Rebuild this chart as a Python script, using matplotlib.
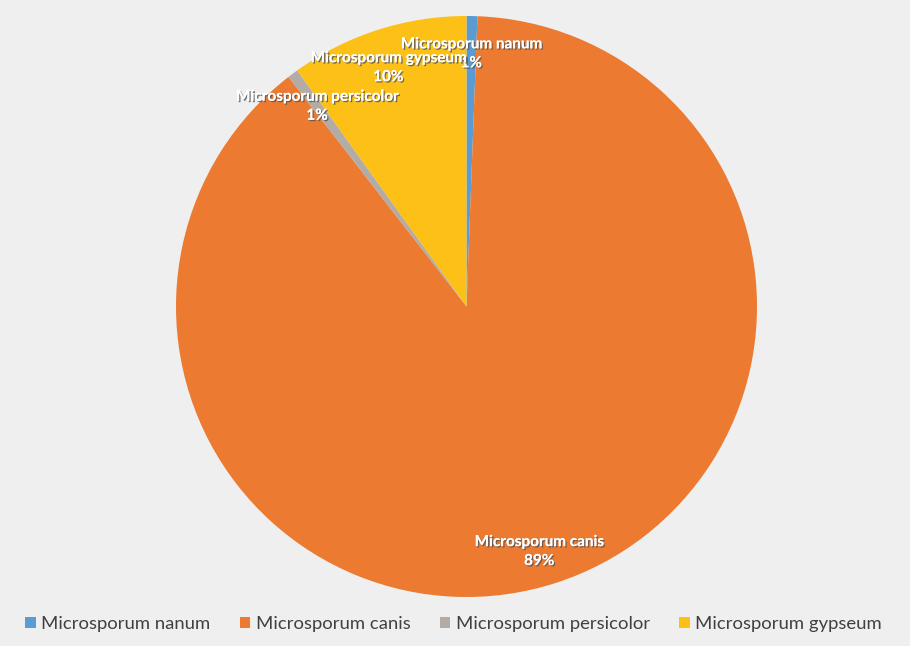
import matplotlib.pyplot as plt
import matplotlib.patheffects as pe
import numpy as np

labels = ['Microsporum nanum', 'Microsporum canis', 'Microsporum persicolor', 'Microsporum gypseum']
values = [0.6, 88.9, 0.6, 9.9]
colors = ['#5a9bd3', '#ec7a30', '#b3aca6', '#fcc016']

# label placement (radius fraction, angle offset in degrees) per slice
lab_r = [0.87, 0.88, 0.86, 0.865]
lab_da = [0, -1.3, 0, 0.3]

plt.rcParams['font.family'] = ['Lato', 'DejaVu Sans']

fig = plt.figure(figsize=(9.1, 6.46), dpi=100, facecolor='#efefef')
ax = fig.add_axes([176 / 910, 1 - 597 / 646, 581 / 910, 581 / 646])
ax.set_facecolor('#efefef')

wedges, _ = ax.pie(values, colors=colors, startangle=90, counterclock=False,
                   radius=1.0, wedgeprops=dict(linewidth=0))
ax.set_xlim(-1, 1)
ax.set_ylim(-1, 1)
ax.set_aspect('equal')

shadow = [pe.withSimplePatchShadow(offset=(1, -1), shadow_rgbFace='#555555', alpha=0.8), pe.Normal()]
total = sum(values)
for w, lab, v, r, da in zip(wedges, labels, values, lab_r, lab_da):
    ang = np.deg2rad((w.theta1 + w.theta2) / 2 + da)
    x, y = r * np.cos(ang), r * np.sin(ang)
    ax.text(x, y, '%s\n%.0f%%' % (lab, v / total * 100), ha='center', va='center',
            color='white', fontsize=11, fontweight='bold', linespacing=1.45,
            path_effects=shadow)

fig.legend(wedges, labels, loc='center left', bbox_to_anchor=(0.028, 0.034), ncol=4,
           frameon=False, fontsize=13.3, handlelength=0.55, handleheight=0.55,
           handletextpad=0.3, columnspacing=1.6, borderpad=0, borderaxespad=0,
           labelcolor='#404040')

fig.savefig('out.png', dpi=100, facecolor=fig.get_facecolor())
